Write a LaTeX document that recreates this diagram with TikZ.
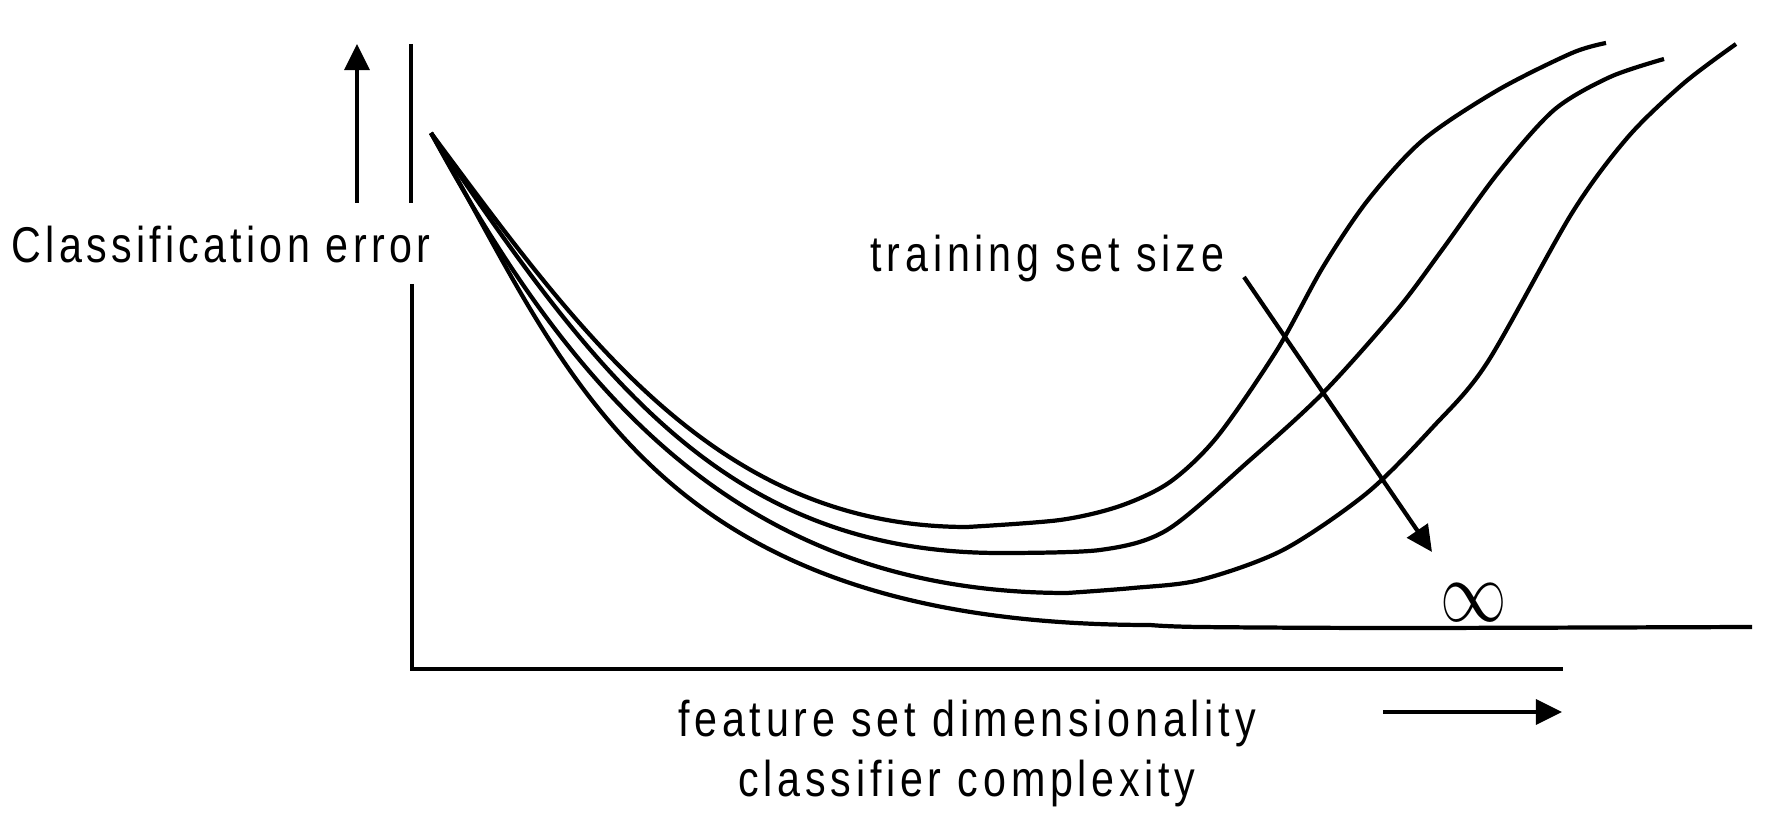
\documentclass[tikz,border=0pt]{standalone}
\usepackage{graphicx}
\usepackage{fontspec}
\setmainfont{Liberation Sans}[FakeStretch=0.82,LetterSpace=9.5]
\usetikzlibrary{arrows.meta}

\begin{document}
\begin{tikzpicture}[x=0.01cm, y=-0.01cm,
    font=\fontsize{14.3pt}{17pt}\selectfont,
    axis/.style={line width=1.4pt},
    curve/.style={line width=1.2pt, line join=round},
    arr/.style={line width=1.2pt, -{Triangle[length=7.4pt,width=7pt]}},
    lbl/.style={inner sep=0pt}]
    \useasboundingbox (0,0) rectangle (1784,825);

    \coordinate (ytop) at (411,44);
    \coordinate (ymid) at (411,203);
    \coordinate (ylow) at (412,284);
    \coordinate (xend) at (1563,669);
    \coordinate (upS) at (357,203);
    \coordinate (upE) at (357,44);
    \coordinate (rtS) at (1383,712);
    \coordinate (rtE) at (1562,712);
    \coordinate (tsS) at (1244,277);
    \coordinate (tsE) at (1432,552);
    \coordinate (start) at (431,133);

    % axes
    \draw[axis] (ytop) -- (ymid);
    \draw[axis] (ylow) |- (xend);
    \draw[arr] (upS) -- (upE);
    \draw[arr] (rtS) -- (rtE);

    % labels
    \node[lbl, anchor=base west, font=\fontsize{14.3pt}{17pt}\selectfont\addfontfeatures{LetterSpace=8.5}] (yerr) at (11,263) {Classification error};
    \node[lbl, anchor=base west] (tsize) at (870,272) {training set size};
    \node[lbl, anchor=base] (feat) at (967,737) {feature set dimensionality};
    \node[lbl, anchor=base] (cplx) at (967,797) {classifier complexity};
    \node[lbl] (inf) at (1474,603) {\scalebox{0.76}[1]{\fontsize{24pt}{26pt}\selectfont$\infty$}};

    % error curves
    \draw[curve] (start) .. controls (581,335) and (717,527) .. (967,527)
        -- plot[smooth] coordinates {(967,527) (1060,520) (1120,506) (1170,482) (1217,437) (1277,350) (1323,267) (1368,200) (1423,140) (1498,90) (1572,53) (1606,43)};
    \draw[curve] (start) .. controls (591,368) and (720,553) .. (1000,553)
        -- plot[smooth] coordinates {(1000,553) (1100,550) (1167,530) (1250,460) (1323,393) (1397,310) (1442,250) (1498,173) (1554,110) (1610,77) (1664,59)};
    \draw[curve] (start) .. controls (570,388) and (737,593) .. (1067,593)
        -- plot[smooth] coordinates {(1067,593) (1133,588) (1200,580) (1283,550) (1367,493) (1433,427) (1487,363) (1572,213) (1628,137) (1684,83) (1736,44)};
    \draw[curve] (start) .. controls (565,360) and (640,625) .. (1150,625)
        -- plot[smooth] coordinates {(1150,625) (1200,627) (1400,628) (1752,627)};

    \draw[arr] (tsS) -- (tsE);
\end{tikzpicture}
\end{document}
